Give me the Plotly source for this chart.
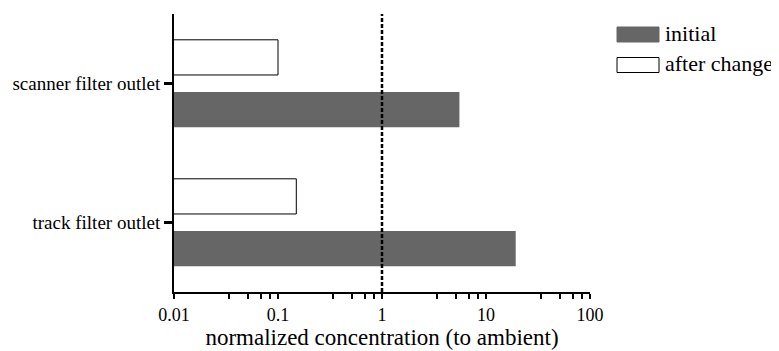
import plotly.graph_objects as go

categories = ["track filter outlet", "scanner filter outlet"]
initial = [19.3, 5.55]
after_change = [0.15, 0.1]
reference_level = 1
major_vals = [0.01, 0.1, 1, 10, 100]
major_text = ["0.01", "0.1", "1", "10", "100"]
minor_mult = [3.4, 5.1, 6.8, 8.3]
minor_vals = [m * d for d in [0.01, 0.1, 1, 10] for m in minor_mult]
legend_labels = ["initial", "after change"]

FONT = "Liberation Serif, Times New Roman, DejaVu Serif, serif"
GREY = "#666666"

# page body has ~8px default margin; compensate
OFF = 8
W, H = 779 - OFF, 351 - OFF
L, T = 174 - OFF, 14 - OFF
PW, PH = 416, 278
R = W - L - PW
B = H - T - PH

fig = go.Figure()
fig.add_trace(go.Bar(
    y=[0, 1], x=after_change, orientation="h",
    name=legend_labels[1], marker=dict(color="white", line=dict(color="black", width=1)),
    width=0.253, offset=0.0614, showlegend=False,
))
fig.add_trace(go.Bar(
    y=[0, 1], x=initial, orientation="h",
    name=legend_labels[0], marker=dict(color=GREY, line=dict(color=GREY, width=0)),
    width=0.253, offset=-0.3144, showlegend=False,
))
fig.add_trace(go.Scatter(
    x=[reference_level, reference_level], y=[-0.5, 1.5], mode="lines",
    line=dict(color="black", width=2.5, dash="4px,2px"), showlegend=False, hoverinfo="skip",
))

fig.update_layout(
    width=W, height=H,
    margin=dict(l=L, r=R, t=T, b=B, autoexpand=False),
    paper_bgcolor="white", plot_bgcolor="white",
    barmode="overlay",
    font=dict(family=FONT, color="black"),
    xaxis=dict(
        type="log", range=[-2, 2], automargin=False,
        tickmode="array", tickvals=major_vals + minor_vals,
        ticktext=major_text + [""] * len(minor_vals),
        ticks="outside", ticklen=5, tickwidth=2, tickcolor="black",
        showline=True, linecolor="black", linewidth=2,
        showgrid=False, zeroline=False,
        tickfont=dict(size=18, family=FONT),
        title=dict(text="normalized concentration (to ambient)",
                   font=dict(size=23, family=FONT), standoff=2),
    ),
    yaxis=dict(
        range=[-0.5, 1.5], automargin=False,
        tickmode="array", tickvals=[0, 1], ticktext=categories,
        ticks="outside", ticklen=8, tickwidth=3, tickcolor="black",
        showline=True, linecolor="black", linewidth=2,
        showgrid=False, zeroline=False,
        tickfont=dict(size=19, family=FONT),
    ),
)

# custom legend (reference pixel positions converted to paper coords)
legend_styles = [(GREY, GREY), ("white", "black")]
for i, label in enumerate(legend_labels):
    fill, edge = legend_styles[i]
    top = 27 + i * 30.5 - OFF
    y1 = 1 - (top - T) / PH
    y0 = 1 - (top + 15 - T) / PH
    fig.add_shape(type="rect", xref="paper", yref="paper",
                  x0=(617 - OFF - L) / PW, x1=(659 - OFF - L) / PW,
                  y0=y0, y1=y1,
                  fillcolor=fill, line=dict(color=edge, width=1))
    fig.add_annotation(text=label, xref="paper", yref="paper",
                       x=(663 - OFF - L) / PW, y=(y0 + y1) / 2 + 0.005,
                       xanchor="left", yanchor="middle", showarrow=False,
                       font=dict(size=22, family=FONT, color="black"))

fig.write_html("out.html")
